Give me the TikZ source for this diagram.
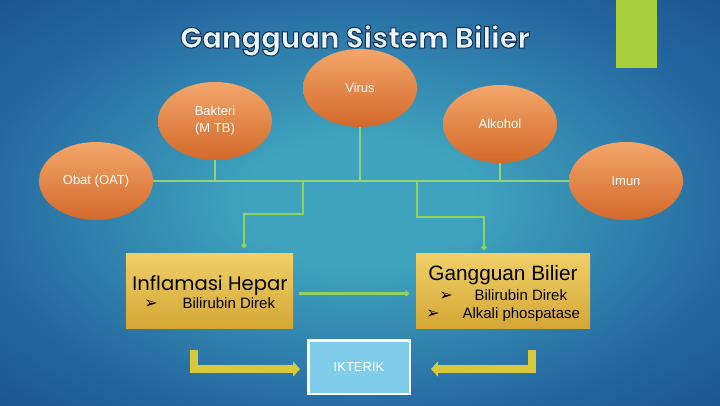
\documentclass[tikz,border=0pt]{standalone}
\usepackage{fontspec}
\setmainfont{Liberation Sans}
\newfontfamily\titlefont{Poppins}
\newfontfamily\symfont{DejaVu Sans}
\usetikzlibrary{shapes.geometric,arrows.meta}
\definecolor{bgc}{HTML}{3FA3BD}
\definecolor{bgm}{HTML}{2466A0}
\definecolor{bge}{HTML}{133873}
\definecolor{bgd}{HTML}{0F2D66}
\definecolor{limec}{HTML}{A9CF3A}
\definecolor{ortop}{HTML}{F3A66A}
\definecolor{orbot}{HTML}{D2692A}
\definecolor{goldtop}{HTML}{F0D068}
\definecolor{goldbot}{HTML}{D4A735}
\definecolor{thingreen}{HTML}{92D37A}
\definecolor{thickgreen}{HTML}{8FD35A}
\definecolor{ikfill}{HTML}{7FCDEB}
\definecolor{yarr}{HTML}{D8C83C}
\definecolor{titlecol}{HTML}{EAF6FB}
\pgfdeclareradialshading{bgshade}{\pgfpoint{0bp}{0bp}}{color(0bp)=(bgc); color(8bp)=(bgc); color(27bp)=(bgm); color(50bp)=(bge)}
\begin{document}
\begin{tikzpicture}[x=1pt,y=-1pt,
  ell/.style={ellipse, minimum width=114pt, minimum height=78pt, inner sep=0pt,
    top color=ortop, bottom color=orbot, text=white, align=center,
    font=\fontsize{13}{17}\selectfont},
  goldbox/.style={rectangle, inner sep=0pt, top color=goldtop, bottom color=goldbot},
  thinline/.style={draw=thingreen, line width=1.3pt},
  branch/.style={draw=thickgreen, line width=2.5pt, -{Circle[length=5pt]}},
  yarrow/.style={draw=yarr, line width=8pt, -{Triangle[width=15pt,length=7pt]}},
  boxtxt/.style={font=\fontsize{15}{17}\selectfont, text=black},
  bul/.style={font=\symfont\fontsize{16}{18}\selectfont, text=black}
]
\useasboundingbox (0,0) rectangle (720,405);
\fill[bgd] (0,0) rectangle (720,405);
\shade[shading=bgshade] (0,0) rectangle (720,405);
\fill[limec] (616,0) rectangle (657,68);

% title
\node[anchor=base, text=titlecol, font=\titlefont\bfseries\fontsize{29}{32}\selectfont] (title) at (355,48)
  {\special{pdf:literal direct 2 Tr 1 w 0.08 0.18 0.32 RG}Gangguan Sistem Bilier\special{pdf:literal direct 0 Tr}};

% ellipses
\node[ell] (virus) at (360,88) {Virus};
\node[ell] (bak) at (215,121) {Bakteri\\(M TB)};
\node[ell] (alk) at (500,124) {Alkohol};
\node[ell] (obat) at (96,181) {Obat (OAT)};
\node[ell] (imun) at (626,181) {Imun};

% thin connectors
\draw[thinline] (obat.east) -- (imun.west);
\coordinate (jb) at (bak.south |- obat.east);
\coordinate (jv) at (virus.south |- obat.east);
\coordinate (ja) at (alk.south |- obat.east);
\draw[thinline] (bak.south) -- (jb);
\draw[thinline] (virus.south) -- (jv);
\draw[thinline] (alk.south) -- (ja);

% boxes
\node[goldbox, minimum width=167pt, minimum height=75pt] (inf) at (209.5,290.5) {};
\node[goldbox, minimum width=174pt, minimum height=75pt] (gb) at (503,290.5) {};
\node[rectangle, draw=white, line width=2.5pt, fill=ikfill, minimum width=101.5pt, minimum height=53.5pt] (ikt) at (359,367) {};

% branch connectors
\coordinate (j1) at (303,181);
\coordinate (j2) at (417,181);
\draw[branch, shorten >=5pt] (j1) -- (303,214) -| ([xshift=34.5pt]inf.north);
\draw[branch, shorten >=3pt] (j2) -- (417,217) -| ([xshift=-19pt]gb.north);
\draw[branch, shorten <=6pt, shorten >=7pt] ([yshift=-3pt]inf.east) -- ([yshift=-3pt]gb.west);

% box texts
\node[anchor=base, text=black, font=\titlefont\fontsize{19.6}{21}\selectfont] (inft) at (210,290) {Inflamasi Hepar};
\node[anchor=base, bul] (ib1) at (151,308) {➢};
\node[anchor=base west, boxtxt] (it1) at (179,308) {Bilirubin Direk};

\node[anchor=base, text=black, font=\fontsize{20.8}{22}\selectfont] (gbt) at (503,280) {Gangguan Bilier};
\node[anchor=base, bul] (gb1) at (446,300) {➢};
\node[anchor=base west, boxtxt] (gt1) at (471,300) {Bilirubin Direk};
\node[anchor=base, bul] (gb2) at (433,318) {➢};
\node[anchor=base west, boxtxt] (gt2) at (459,318) {Alkali phospatase};

% ikterik label
\node[text=white, font=\fontsize{13}{15}\selectfont] (iktt) at (ikt.center) {IKTERIK};

% yellow arrows
\coordinate (ya) at (194,350);
\coordinate (yb) at (532,350);
\draw[yarrow, shorten >=7pt] (ya) |- ([yshift=-2pt]ikt.west);
\draw[yarrow, shorten >=20pt] (yb) |- ([yshift=-2pt]ikt.east);
\end{tikzpicture}
\end{document}
